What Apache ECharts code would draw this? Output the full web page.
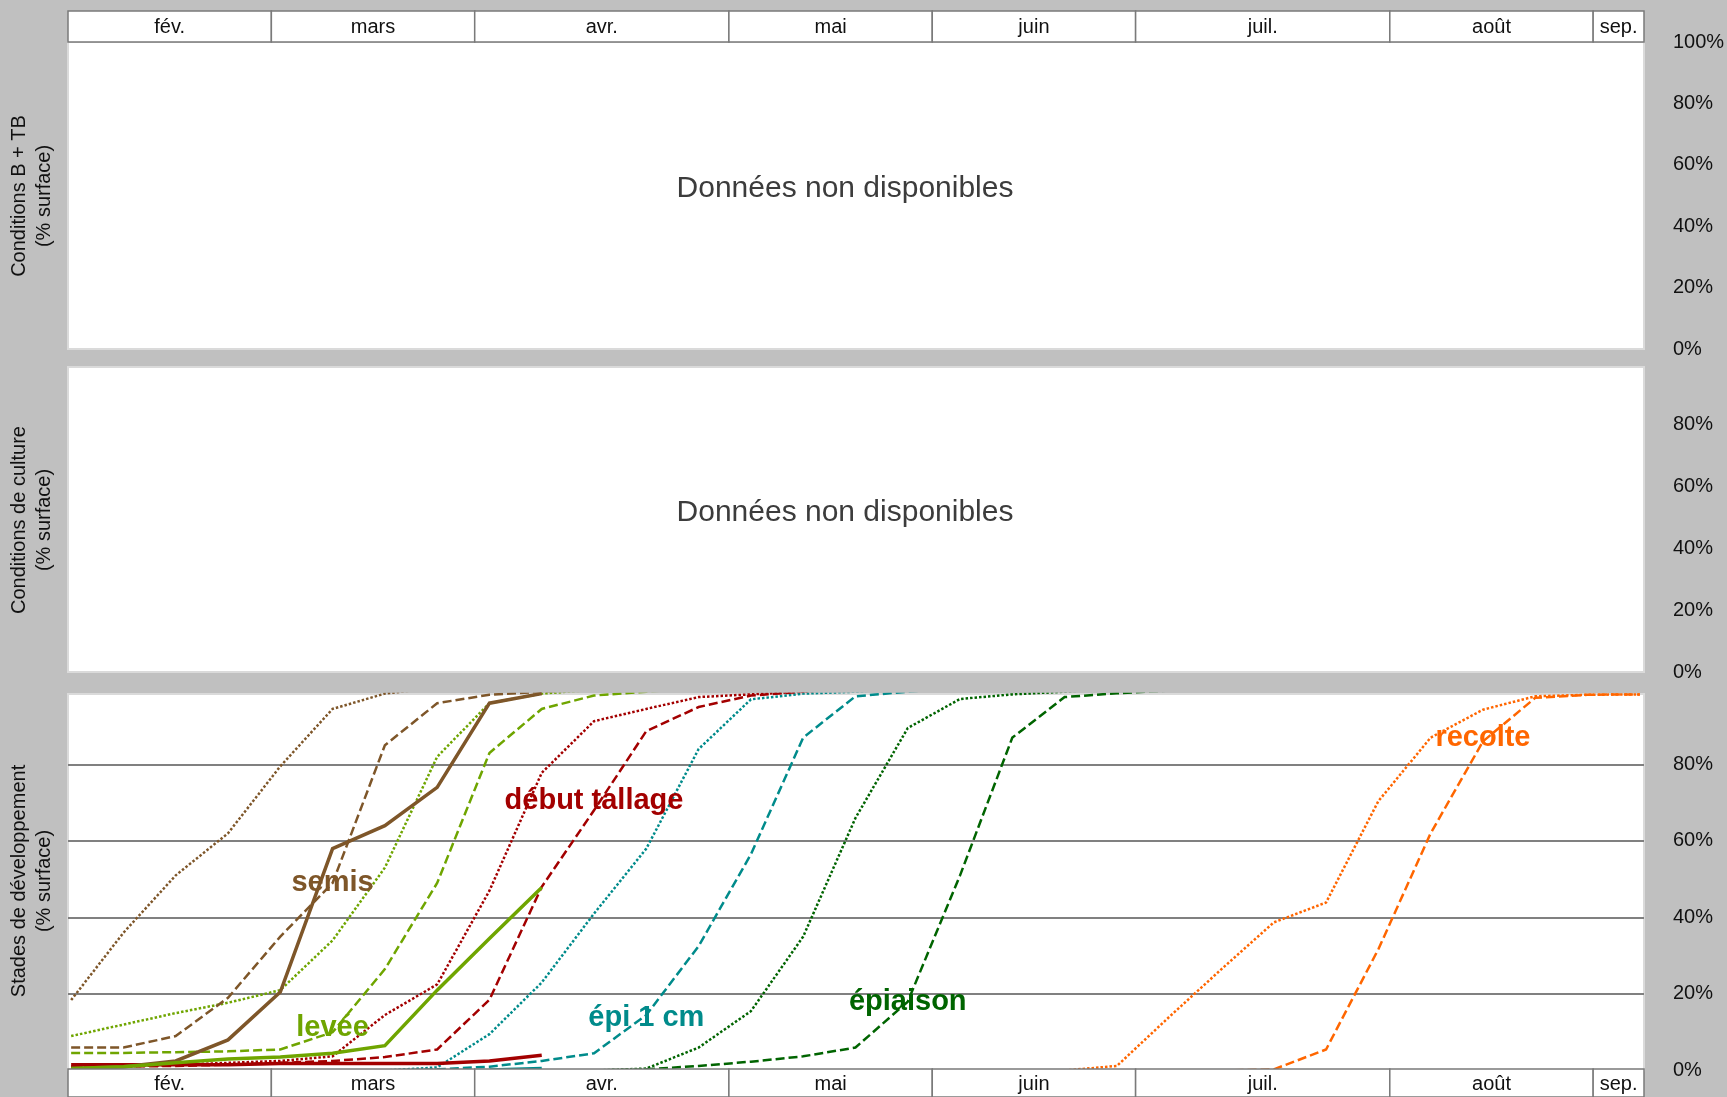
<!DOCTYPE html>
<html><head><meta charset="utf-8">
<script src="https://cdn.jsdelivr.net/npm/echarts@6/dist/echarts.min.js"></script>
<style>html,body{margin:0;padding:0;background:#c0c0c0;overflow:hidden}#c{width:1727px;height:1097px}</style>
</head><body><div id="c"></div>
<script>
// ---------- data ----------
const reportDates = ['01/02','08/02','15/02','22/02','29/02','07/03','14/03','21/03','28/03','04/04','11/04','18/04','25/04','02/05','09/05','16/05','23/05','30/05','06/06','13/06','20/06','27/06','04/07','11/07','18/07','25/07','01/08','08/08','15/08','22/08','29/08'];
const monthNames = ['fév.','mars','avr.','mai','juin','juil.','août','sep.'];
const monthWeeks = [4,4,5,4,4,5,4,1];
const pctTicks = [0,20,40,60,80,100];
const emptyText = 'Données non disponibles';
const panelTitles = ['Conditions B + TB\n(% surface)','Conditions de culture\n(% surface)','Stades de développement\n(% surface)'];
const stageNames = ['semis','levée','début tallage','épi 1 cm','épiaison','recolte'];
const stageLabelX = [5,5,10,11,16,27];
const stageLabelY = [49,11,70.4,13.6,18,87];

const semisSolid    = [0.5,1,2.5,8,20.5,58,64,74,96,98.5,null,null,null,null,null,null,null,null,null,null,null,null,null,null,null,null,null,null,null,null,null];
const semisDashed   = [6,6,9,19,35,49,85,96,98.2,99,99.5,100,null,null,null,null,null,null,null,null,null,null,null,null,null,null,null,null,null,null,null];
const semisDotted   = [18.4,36,51,62,79.5,94.5,98.5,100,null,null,null,null,null,null,null,null,null,null,null,null,null,null,null,null,null,null,null,null,null,null,null];
const leveeSolid    = [0.5,1,2,3,3.5,4.5,6.5,21,34.5,47.8,null,null,null,null,null,null,null,null,null,null,null,null,null,null,null,null,null,null,null,null,null];
const leveeDashed   = [4.6,4.6,4.8,5,5.5,10,26.5,49,83,94.5,98,99,100,null,null,null,null,null,null,null,null,null,null,null,null,null,null,null,null,null,null];
const leveeDotted   = [9,12,15,17.7,21,34,53,82,96,98.5,99.5,100,null,null,null,null,null,null,null,null,null,null,null,null,null,null,null,null,null,null,null];
const tallageSolid  = [1.5,1.5,1.5,1.5,1.8,1.8,1.8,1.8,2.5,4,null,null,null,null,null,null,null,null,null,null,null,null,null,null,null,null,null,null,null,null,null];
const tallageDashed = [1,1,1.2,1.5,2,2.5,3.5,5.5,18.5,48,68,88.7,95,98,99,100,null,null,null,null,null,null,null,null,null,null,null,null,null,null,null];
const tallageDotted = [1,1,1.5,2,2.5,3.7,14.5,22.5,47,77.8,91.3,94.5,97.6,98.3,99,100,null,null,null,null,null,null,null,null,null,null,null,null,null,null,null];
const epiSolid      = [null,null,null,null,null,null,null,null,0.1,0.5,null,null,null,null,null,null,null,null,null,null,null,null,null,null,null,null,null,null,null,null,null];
const epiDashed     = [null,null,null,null,null,null,0,0.3,1,2.5,4.5,14.5,32.5,56.5,87,97.8,99,100,null,null,null,null,null,null,null,null,null,null,null,null,null];
const epiDotted     = [null,null,null,null,null,null,0,0.8,9.5,23,41,58,84,97,98.5,99,100,null,null,null,null,null,null,null,null,null,null,null,null,null,null];
const epiaisonDashed= [null,null,null,null,null,null,null,null,null,null,0,0.3,1.2,2.3,3.7,6,18,51,87,97.6,98.6,99.3,100,null,null,null,null,null,null,null,null];
const epiaisonDotted= [null,null,null,null,null,null,null,null,null,null,0,0.5,6,15.5,35,66,89.5,97.1,98.3,99,100,null,null,null,null,null,null,null,null,null,null];
const recolteDashed = [null,null,null,null,null,null,null,null,null,null,null,null,null,null,null,null,null,null,null,null,null,null,0,0.3,5.5,31.7,62,86,97.4,98.2,98.3];
const recolteDotted = [null,null,null,null,null,null,null,null,null,null,null,null,null,null,null,null,null,null,null,0,1.2,14,26.5,38.7,43.9,70.4,87,94.3,97.8,98.2,98.3];

// ---------- styles ----------
const FONT = '"Liberation Sans", Arial, sans-serif';
const stageColors = ['#7e5629','#6fa500','#a30000','#008b8b','#006400','#ff6600'];
const styleSolid  = {width:3.5, type:'solid'};
const styleDashed = {width:2.5, type:[9,4]};
const styleDotted = {width:2.5, type:[2.5,2]};

const lineDefs = [
  [semisDotted,0,styleDotted],[leveeDotted,1,styleDotted],[tallageDotted,2,styleDotted],
  [epiDotted,3,styleDotted],[epiaisonDotted,4,styleDotted],[recolteDotted,5,styleDotted],
  [semisDashed,0,styleDashed],[leveeDashed,1,styleDashed],[tallageDashed,2,styleDashed],
  [epiDashed,3,styleDashed],[epiaisonDashed,4,styleDashed],[recolteDashed,5,styleDashed],
  [tallageSolid,2,styleSolid],[epiSolid,3,styleSolid],[semisSolid,0,styleSolid],[leveeSolid,1,styleSolid]
];

function pts(arr){ return arr.map((v,i)=>[i,v]).filter(p=>p[1]!=null); }
let acc = 0;
const monthSpans = monthWeeks.map(w=>{ const s=acc; acc+=w; return [s,acc]; });

const PL = 68, PW = 1576;
const grids = [
  {left:PL, width:PW, top:11, height:31},
  {left:PL, width:PW, top:42, height:307, show:true, backgroundColor:'#fff', borderColor:'#dadada', borderWidth:2},
  {left:PL, width:PW, top:367, height:305, show:true, backgroundColor:'#fff', borderColor:'#dadada', borderWidth:2},
  {left:PL, width:PW, top:694, height:376.5, show:true, backgroundColor:'#fff', borderColor:'#dadada', borderWidth:2},
  {left:PL, width:PW, top:1069, height:28}
].map(g=>Object.assign({outerBoundsMode:'none', containLabel:false}, g));

const hiddenX = (gi,min,max)=>({type:'value', gridIndex:gi, min, max, show:false});
const xAxes = [hiddenX(0,0,31), hiddenX(1,0,31), hiddenX(2,0,31), hiddenX(3,-0.06,30.08), hiddenX(4,0,31)];

function pctAxis(gi, max, maxLabel, split){
  return {type:'value', gridIndex:gi, position:'right', min:0, max, interval:20,
    axisLine:{show:false}, axisTick:{show:false},
    axisLabel:{show:true, margin:29, align:'left', fontSize:20, fontFamily:FONT, color:'#111',
      formatter:v=> (pctTicks.indexOf(v)>=0 && v<=maxLabel) ? v+'%' : ''},
    splitLine: split ? {show:true, lineStyle:{color:['#808080','#808080','#808080','#808080','#808080','rgba(0,0,0,0)'], width:2}} : {show:false}
  };
}
const yAxes = [
  {type:'value', gridIndex:0, min:0, max:1, show:false},
  pctAxis(1,100,100,false),
  pctAxis(2,98.4,80,false),
  pctAxis(3,98.4,80,true),
  {type:'value', gridIndex:4, min:0, max:1, show:false}
];

function headerSeries(xi){
  return {type:'custom', xAxisIndex:xi, yAxisIndex:xi, silent:true, clip:false, z:5,
    data: monthSpans,
    encode:{x:[0,1]},
    renderItem:(params, api)=>{
      const p0 = api.coord([api.value(0),1]), p1 = api.coord([api.value(1),0]);
      return {type:'group', children:[
        {type:'rect', shape:{x:p0[0], y:p0[1], width:p1[0]-p0[0], height:p1[1]-p0[1]},
          style:{fill:'#fff', stroke:'#7a7a7a', lineWidth:1.5}},
        {type:'text', style:{text:monthNames[params.dataIndex], x:(p0[0]+p1[0])/2, y:(p0[1]+p1[1])/2+1,
          textAlign:'center', textVerticalAlign:'middle', font:'20px '+FONT, fill:'#111'}}
      ]};
    }};
}

const series = [];
lineDefs.forEach(([arr,si,st])=>{
  series.push({type:'line', xAxisIndex:3, yAxisIndex:3, data:pts(arr), symbol:'none', silent:true,
    lineStyle:{color:stageColors[si], width:st.width, type:st.type, cap:'butt', join:'miter'}, z:3});
});
series.push({type:'scatter', xAxisIndex:3, yAxisIndex:3, symbolSize:0, silent:true, z:6,
  itemStyle:{opacity:1},
  data: stageNames.map((n,i)=>({name:n, value:[stageLabelX[i], stageLabelY[i]],
    itemStyle:{color:stageColors[i], opacity:1},
    label:{color:stageColors[i], opacity:1}})),
  label:{show:true, position:'inside', formatter:p=>p.name, fontSize:29, fontWeight:'bold', fontFamily:FONT, opacity:1},
  emphasis:{disabled:true}
});
series.push(headerSeries(0));
series.push(headerSeries(4));

const titleCenters = [196, 520, 881];
const graphic = [];
panelTitles.forEach((t,i)=>{
  graphic.push({type:'text', x:32, y:titleCenters[i], rotation:Math.PI/2, silent:true,
    style:{text:t, textAlign:'center', textVerticalAlign:'middle', font:'20px '+FONT, fill:'#111', lineHeight:25}});
});
[189, 513].forEach(y=>{
  graphic.push({type:'text', x:845, y:y, silent:true,
    style:{text:emptyText, textAlign:'center', textVerticalAlign:'middle', font:'30px '+FONT, fill:'#3c3c3c'}});
});

const chart = echarts.init(document.getElementById('c'), null, {renderer:'canvas'});
chart.setOption({
  animation:false,
  backgroundColor:'#c0c0c0',
  grid:grids, xAxis:xAxes, yAxis:yAxes, series, graphic
});
</script></body></html>
